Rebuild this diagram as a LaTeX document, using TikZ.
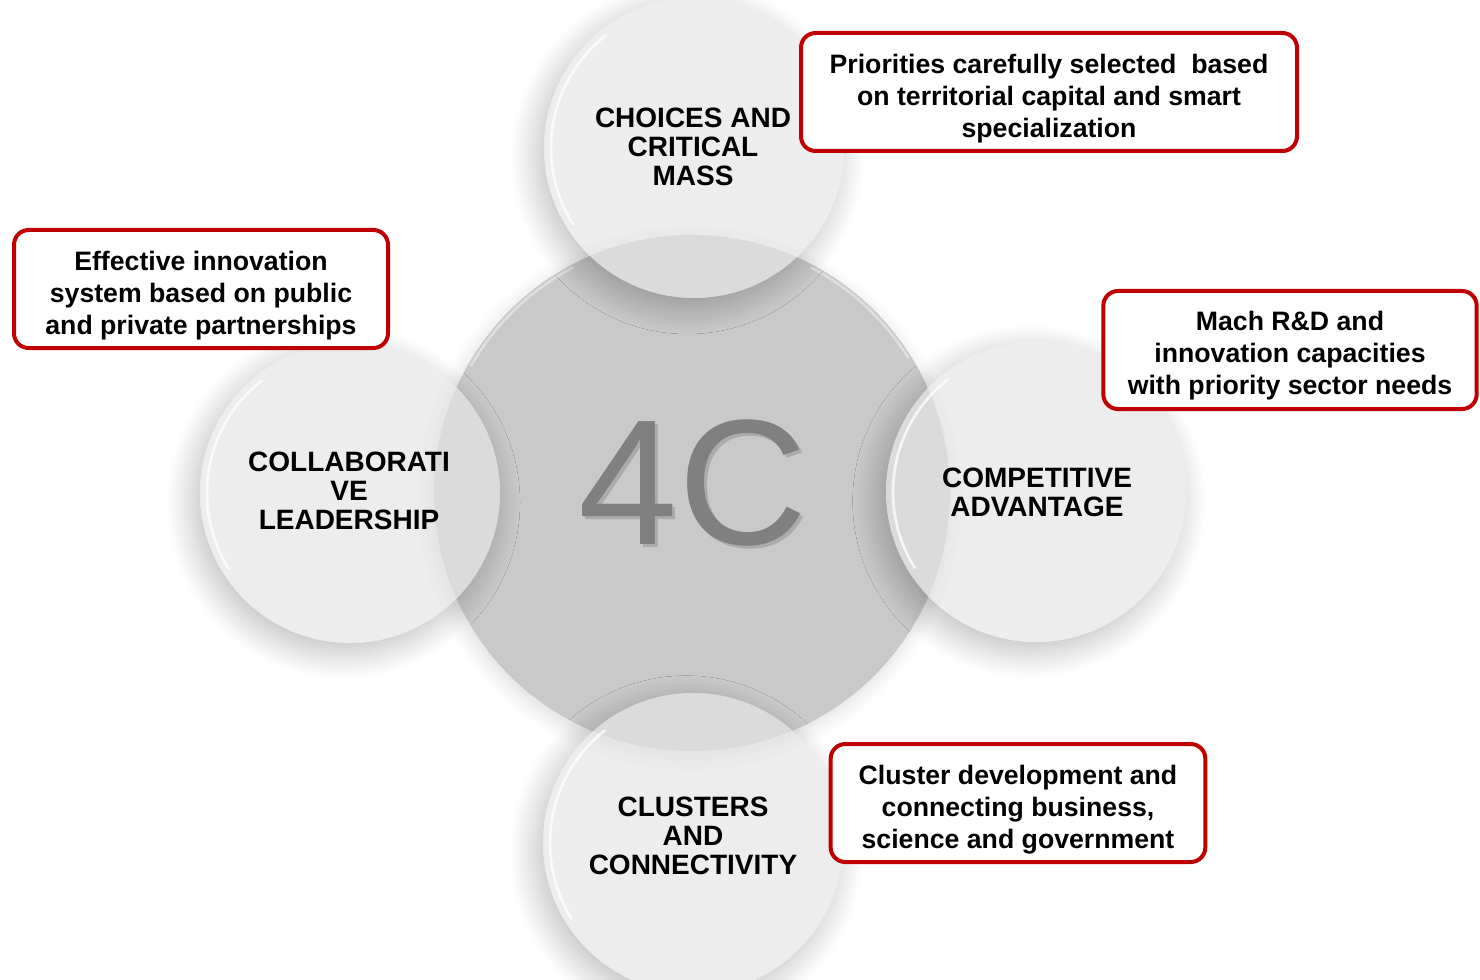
\documentclass[tikz,border=0pt]{standalone}
\usepackage{fontspec}
\setmainfont{Liberation Sans}
\usetikzlibrary{shadows.blur}
\definecolor{boxred}{HTML}{C00000}
\definecolor{disc}{HTML}{C9C9C9}
\definecolor{bubblefill}{HTML}{E4E4E4}
\definecolor{fourc}{HTML}{808080}

\tikzset{
  bubble/.style={circle, minimum size=225pt, inner sep=0pt,
    fill=bubblefill, fill opacity=0.68},
  bubbletext/.style={align=center, font=\fontsize{21}{21.75}\selectfont\bfseries},
  drop/.style={blur shadow={shadow xshift=-5pt, shadow yshift=-7pt,
    shadow blur radius=20pt, shadow blur steps=16, shadow opacity=26}},
  redbox/.style={draw=boxred, line width=3pt, rounded corners=11pt, fill=white,
    minimum height=88.5pt, inner sep=0pt},
  boxtext/.style={align=center, font=\fontsize{20}{24}\selectfont\bfseries},
  rim/.style={white, line width=2pt, opacity=0.75, line cap=round}
}

\begin{document}
\begin{tikzpicture}[x=0.75pt,y=0.75pt,yscale=-1,xscale=1]
\useasboundingbox (0,0) rectangle (1480,980);

% Centre disc
\node [circle, minimum size=387pt, inner sep=0pt, fill=disc,
  blur shadow={shadow xshift=-2pt, shadow yshift=-4pt, shadow blur radius=12pt,
    shadow blur steps=12, shadow opacity=14}] (core) at (692,493) {};
\draw [rim, opacity=0.4] (692,493) ++(-118:255) arc [start angle=-118, end angle=-150, radius=255];
\draw [rim, opacity=0.4] (692,493) ++(-32:255) arc [start angle=-32, end angle=-62, radius=255];
% Text Node
\node [text=black, opacity=0.15, font=\fontsize{134}{134}\selectfont] (title-sh) at (696,486) {4C};
\node [text=fourc, font=\fontsize{134}{134}\selectfont] (title) at (693,483) {4C};

% Soft shadows round the satellites, kept off their own area
\foreach \x/\y in {694/148, 350/493, 1036/492, 693/843}{
  \begin{scope}[even odd rule]
    \clip (0,0) rectangle (1480,980) (\x,\y) circle (150);
    \path [drop] (\x,\y) circle (150);
  \end{scope}
}

% Satellites
\node [bubble] (choices) at (694,148) {};
\node [bubble] (leader) at (350,493) {};
\node [bubble] (compet) at (1036,492) {};
\node [bubble] (cluster) at (693,843) {};
\foreach \c in {choices,leader,compet,cluster}
  \draw [rim] (\c.center) ++(-128:143) arc [start angle=-128, end angle=-212, radius=143];

% Text Node
\node [bubbletext] (choices-txt) at (693,147) {CHOICES AND\\CRITICAL\\MASS};
\node [bubbletext] (leader-txt) at (349,491) {COLLABORATI\\VE\\LEADERSHIP};
\node [bubbletext] (compet-txt) at (1037,492) {COMPETITIVE\\ADVANTAGE};
\node [bubbletext] (cluster-txt) at (693,836) {CLUSTERS\\AND\\CONNECTIVITY};

% Text Node
\node [redbox, minimum width=372pt] (prio) at (1049,92) {};
\node [boxtext] (prio-txt) at (1049,99) {Priorities carefully selected \ based\\on territorial capital and smart\\specialization};
% Text Node
\node [redbox, minimum width=280.5pt] (effect) at (201,289) {};
\node [boxtext] (effect-txt) at (201,296) {Effective innovation\\system based on public\\and private partnerships};
% Text Node
\node [redbox, minimum width=280pt] (mach) at (1290,350) {};
\node [boxtext] (mach-txt) at (1290,356) {Mach R\&D and\\innovation capacities\\with priority sector needs};
% Text Node
\node [redbox, minimum width=281pt] (cldev) at (1018,803) {};
\node [boxtext] (cldev-txt) at (1018,810) {Cluster development and\\connecting business,\\science and government};

\end{tikzpicture}
\end{document}
